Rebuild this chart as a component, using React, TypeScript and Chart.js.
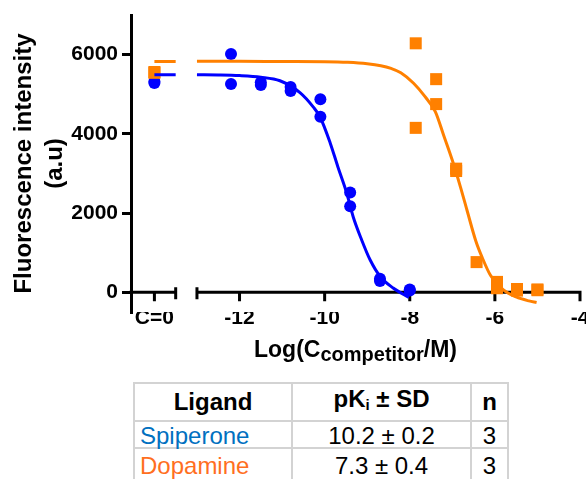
import React, { useEffect, useRef } from 'react';
import { Chart, registerables } from 'chart.js';

Chart.register(...registerables);

const FONT = "'Liberation Sans', Arial, Helvetica, sans-serif";
const BLUE = '#0000FF';
const ORANGE = '#FF8000';
const SPIPERONE_TEXT = '#0070C0';
const DOPAMINE_TEXT = '#FF6F1F';

// x = log10(C competitor / M); the C=0 control sits left of the axis break
const controlX = -14;
const xMin = -14.55;
const xMax = -4;
const yMin = -500;
const yMax = 7000;
const xTicks = [-14, -12, -10, -8, -6, -4];
const yTicks = [0, 2000, 4000, 6000];
const axisSegments = [[xMin, -13.5], [-13, xMax]];
const breakCaps = [-13.5, -13];

// measured points
const spiperoneX = [-14, -14, -12.2, -12.2, -11.5, -11.5, -10.8, -10.8, -10.1, -10.1, -9.4, -9.4, -8.7, -8.7, -8.0, -8.0];
const spiperoneY = [5280, 5320, 6015, 5260, 5300, 5230, 5180, 5080, 4870, 4430, 2520, 2170, 340, 280, 70, 40];
const dopamineX = [-14, -14, -7.86, -7.86, -7.38, -7.38, -6.91, -6.91, -6.43, -5.95, -5.95, -5.48, -5.48, -5.0, -5.0];
const dopamineY = [5540, 5560, 6285, 4150, 5380, 4750, 3120, 3060, 760, 260, 100, 80, 40, 70, 50];

// fitted curves; null marks the axis break
const spiperoneFitX = [-14, -13.5, -13.25, -13, -12.5, -12, -11.5, -11.05, -10.58, -10.27, -10.11, -9.87, -9.69, -9.48, -9.33, -9.13, -8.93, -8.69, -8.39, -8.02];
const spiperoneFitY = [5490, 5490, null, 5490, 5485, 5470, 5430, 5340, 5040, 4680, 4430, 3770, 3170, 2500, 1906, 1320, 813, 390, 105, -130];
const dopamineFitX = [-14, -13.5, -13.25, -13, -12, -11, -10, -9.46, -9.0, -8.68, -8.44, -8.21, -7.91, -7.65, -7.4, -7.2, -7.0, -6.81, -6.65, -6.45, -6.3, -6.1, -5.8, -5.5, -5.2, -5.02];
const dopamineFitY = [5825, 5825, null, 5830, 5830, 5825, 5820, 5805, 5770, 5720, 5650, 5540, 5275, 4950, 4560, 3950, 3330, 2660, 2050, 1300, 880, 420, 60, -120, -220, -260];

// table
const tableHeaders = ['Ligand', 'pKi ± SD', 'n'];
const ligands = ['Spiperone', 'Dopamine'];
const pKi = ['10.2 ± 0.2', '7.3 ± 0.4'];
const nValues = ['3', '3'];
const ligandColors = [SPIPERONE_TEXT, DOPAMINE_TEXT];

const zip = (xs: number[], ys: (number | null)[]) => xs.map((x, i) => ({ x, y: ys[i] }));

const brokenAxisPlugin = {
  id: 'brokenAxis',
  beforeDatasetsDraw(chart: any) {
    const { ctx, scales } = chart;
    const xs = scales.x;
    const ys = scales.y;
    const y0 = ys.getPixelForValue(0);
    ctx.save();
    ctx.strokeStyle = '#000';
    ctx.lineWidth = 3;
    ctx.lineCap = 'butt';
    ctx.beginPath();
    axisSegments.forEach(([a, b]) => {
      ctx.moveTo(xs.getPixelForValue(a) - 1.5, y0);
      ctx.lineTo(xs.getPixelForValue(b) + 1.5, y0);
    });
    breakCaps.forEach((v) => {
      const px = xs.getPixelForValue(v);
      ctx.moveTo(px, y0 - 5);
      ctx.lineTo(px, y0 + 7);
    });
    xTicks.forEach((v) => {
      const px = xs.getPixelForValue(v);
      ctx.moveTo(px, y0);
      ctx.lineTo(px, y0 + 9);
    });
    ctx.stroke();
    ctx.restore();
  },
  afterDraw(chart: any) {
    const { ctx, chartArea } = chart;
    const cx = (chartArea.left + chartArea.right) / 2;
    const base = 357;
    const main = `bold 23px ${FONT}`;
    const sub = `bold 20px ${FONT}`;
    ctx.save();
    ctx.fillStyle = '#000';
    ctx.textBaseline = 'alphabetic';
    ctx.textAlign = 'left';
    ctx.font = main;
    const w1 = ctx.measureText('Log(C').width;
    const w3 = ctx.measureText('/M)').width;
    ctx.font = sub;
    const w2 = ctx.measureText('competitor').width;
    let x = cx - (w1 + w2 + w3) / 2;
    ctx.font = main;
    ctx.fillText('Log(C', x, base);
    x += w1;
    ctx.font = sub;
    ctx.fillText('competitor', x, base + 4);
    x += w2;
    ctx.font = main;
    ctx.fillText('/M)', x, base);
    ctx.restore();
  },
};

function ChartView() {
  const ref = useRef<HTMLCanvasElement | null>(null);
  useEffect(() => {
    if (!ref.current) return;
    const chart = new Chart(ref.current, {
      type: 'scatter',
      data: {
        datasets: [
          {
            type: 'line',
            data: zip(dopamineFitX, dopamineFitY),
            borderColor: ORANGE,
            borderWidth: 3,
            pointRadius: 0,
            cubicInterpolationMode: 'monotone',
            spanGaps: false,
            fill: false,
          } as any,
          {
            type: 'line',
            data: zip(spiperoneFitX, spiperoneFitY),
            borderColor: BLUE,
            borderWidth: 3,
            pointRadius: 0,
            cubicInterpolationMode: 'monotone',
            spanGaps: false,
            fill: false,
          } as any,
          {
            data: zip(dopamineX, dopamineY),
            pointStyle: 'rect',
            pointRadius: 8.5,
            backgroundColor: ORANGE,
            borderWidth: 0,
          },
          {
            data: zip(spiperoneX, spiperoneY),
            pointStyle: 'circle',
            pointRadius: 6,
            backgroundColor: BLUE,
            borderWidth: 0,
          },
        ],
      },
      options: {
        animation: false,
        responsive: false,
        events: [],
        layout: { padding: { left: 0, top: 15, right: 40, bottom: 0 } },
        plugins: { legend: { display: false }, tooltip: { enabled: false } },
        scales: {
          x: {
            type: 'linear',
            min: xMin,
            max: xMax,
            grid: { display: false, drawTicks: false },
            border: { display: false },
            afterBuildTicks: (s: any) => {
              s.ticks = xTicks.map((v) => ({ value: v }));
            },
            afterFit: (s: any) => {
              s.height = 63;
              s.paddingLeft = 0;
              s.paddingRight = 0;
            },
            ticks: {
              color: '#000',
              font: { family: FONT, size: 21, weight: 'bold' },
              padding: -6,
              maxRotation: 0,
              autoSkip: false,
              callback: (v: any) => (v === controlX ? 'C=0' : String(v)),
            },
          },
          y: {
            type: 'linear',
            min: yMin,
            max: yMax,
            grid: {
              display: true,
              drawOnChartArea: false,
              drawTicks: true,
              tickLength: 9,
              lineWidth: 3,
              color: '#000',
            },
            border: { display: true, width: 3, color: '#000' },
            afterBuildTicks: (s: any) => {
              s.ticks = yTicks.map((v) => ({ value: v }));
            },
            afterFit: (s: any) => {
              s.width = 131;
              s.paddingTop = 0;
              s.paddingBottom = 0;
            },
            ticks: {
              color: '#000',
              font: { family: FONT, size: 21, weight: 'bold' },
              padding: 4,
              callback: (v: any) => String(v),
            },
            title: {
              display: true,
              text: ['Fluorescence intensity', '(a.u)'],
              color: '#000',
              font: { family: FONT, size: 24, weight: 'bold', lineHeight: 1.28 },
              padding: { top: 9, bottom: 0 },
            },
          },
        },
      },
      plugins: [brokenAxisPlugin],
    } as any);
    return () => chart.destroy();
  }, []);
  return (
    <canvas
      ref={ref}
      width={620}
      height={375}
      style={{ position: 'absolute', left: 0, top: 0, width: 620, height: 375 }}
    />
  );
}

function ResultTable() {
  const colWidths = [158, 179, 37];
  const rowHeights = [38, 27, 32];
  const textTop = [0, 1, 4];
  const border = '2px solid #d3d3d3';
  const cell = (content: React.ReactNode, col: number, row: number, extra: React.CSSProperties = {}) => (
    <div
      key={`${row}-${col}`}
      style={{
        boxSizing: 'border-box',
        width: colWidths[col],
        height: rowHeights[row],
        borderRight: border,
        borderBottom: row === rowHeights.length - 1 ? 'none' : border,
        display: 'flex',
        alignItems: 'center',
        justifyContent: col === 0 && row > 0 ? 'flex-start' : 'center',
        paddingLeft: col === 0 && row > 0 ? 5 : 0,
        whiteSpace: 'nowrap',
        ...extra,
      }}
    >
      {content}
    </div>
  );
  const headerContent = (h: string) =>
    h.startsWith('pK') ? (
      <span>
        pK<sub style={{ fontSize: 15, verticalAlign: -3 }}>i</sub>
        {h.slice(3)}
      </span>
    ) : (
      h
    );
  const body = (row: number): React.CSSProperties => ({
    fontSize: 24,
    lineHeight: '25px',
    alignItems: 'flex-start',
    paddingTop: textTop[row],
  });
  return (
    <div
      style={{
        position: 'absolute',
        left: 133,
        top: 382,
        borderTop: border,
        borderLeft: border,
        display: 'grid',
        gridTemplateColumns: colWidths.map((w) => `${w}px`).join(' '),
        gridTemplateRows: rowHeights.map((h) => `${h}px`).join(' '),
        fontFamily: FONT,
        color: '#000',
      }}
    >
      {tableHeaders.map((h, c) =>
        cell(headerContent(h), c, 0, { fontWeight: 'bold', fontSize: 24, lineHeight: '36px' })
      )}
      {ligands.map((lig, r) => [
        cell(lig, 0, r + 1, { color: ligandColors[r], ...body(r + 1) }),
        cell(pKi[r], 1, r + 1, body(r + 1)),
        cell(nValues[r], 2, r + 1, body(r + 1)),
      ])}
    </div>
  );
}

export default function App() {
  return (
    <div
      style={{
        position: 'absolute',
        left: 0,
        top: 0,
        width: 586,
        height: 479,
        overflow: 'hidden',
        background: '#fff',
      }}
    >
      <ChartView />
      <ResultTable />
    </div>
  );
}
